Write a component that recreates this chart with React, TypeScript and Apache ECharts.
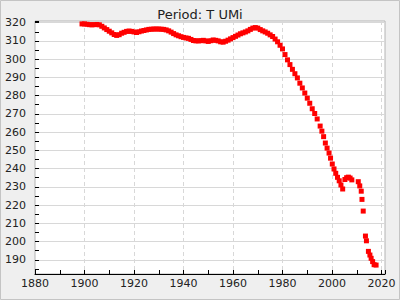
import { useEffect, useRef } from 'react';
import * as echarts from 'echarts';

const TITLE = 'Period: T UMi';

// Annual observations (year, period)
const earlyYears = [
  1899, 1900, 1901, 1902, 1903, 1904, 1905, 1906, 1907, 1908, 1909, 1910,
  1911, 1912, 1913, 1914, 1915, 1916, 1917, 1918, 1919, 1920, 1921, 1922,
  1923, 1924, 1925, 1926, 1927, 1928, 1929, 1930, 1931, 1932, 1933, 1934,
  1935, 1936, 1937, 1938, 1939, 1940, 1941, 1942, 1943, 1944, 1945, 1946,
  1947, 1948, 1949, 1950, 1951, 1952, 1953, 1954, 1955, 1956, 1957, 1958,
  1959, 1960, 1961, 1962, 1963, 1964, 1965, 1966, 1967, 1968, 1969, 1970,
  1971, 1972, 1973, 1974, 1975, 1976, 1977, 1978, 1979, 1980, 1981, 1982,
  1983, 1984, 1985, 1986, 1987, 1988, 1989, 1990, 1991, 1992, 1993, 1994,
];
const earlyPeriods = [
  319.3, 319.3, 319.1, 318.9, 318.8, 318.9, 319.0, 318.8, 318.0, 317.1, 316.2, 315.3,
  314.4, 313.5, 313.0, 313.4, 314.2, 314.7, 315.2, 315.4, 315.2, 314.9, 314.6, 315.0,
  315.4, 315.7, 316.0, 316.3, 316.4, 316.5, 316.5, 316.5, 316.4, 316.3, 316.0, 315.5,
  314.8, 314.0, 313.3, 312.8, 312.3, 311.9, 311.6, 311.4, 310.8, 310.2, 310.0, 310.0,
  310.1, 310.3, 310.0, 309.7, 310.1, 310.5, 310.3, 310.0, 309.5, 309.3, 309.8, 310.4,
  311.1, 311.8, 312.5, 313.2, 313.9, 314.4, 314.9, 315.5, 316.3, 317.0, 317.3, 317.0,
  316.2, 315.5, 314.9, 314.2, 313.3, 312.4, 311.0, 309.5, 307.6, 305.6, 302.5, 299.6,
  297.0, 294.4, 292.0, 289.7, 286.8, 284.2, 281.4, 278.6, 275.8, 272.8, 270.2, 267.2,
];

// Denser recent observations
const lateYears = [
  1995.2, 1995.9, 1996.6, 1997.3, 1998.0, 1998.8, 1999.4, 2000.1, 2000.8, 2001.5,
  2002.2, 2002.9, 2003.6, 2004.3, 2005.2, 2005.9, 2006.6, 2007.3, 2008.0, 2010.6,
  2011.2, 2011.8, 2012.1, 2012.6, 2013.5, 2013.9, 2014.7, 2015.3, 2015.8, 2016.4,
  2017.0, 2017.8,
];
const latePeriods = [
  263.3, 260.5, 257.5, 254.0, 251.2, 248.5, 245.7, 242.5, 239.8, 237.4,
  235.2, 233.3, 231.0, 228.8, 234.0, 235.0, 235.3, 234.8, 233.8, 232.8,
  230.5, 227.6, 223.1, 216.7, 203.0, 200.4, 194.6, 192.6, 190.8, 189.0,
  187.3, 187.1,
];

const X_MIN = 1880;
const X_MAX = 2021.4;
const Y_MIN = 182.2;
const Y_MAX = 320.9;

const FONT = 'DejaVu Sans';

export default function App() {
  const ref = useRef<HTMLDivElement>(null);

  useEffect(() => {
    if (!ref.current) return;
    const chart = echarts.init(ref.current, undefined, { renderer: 'svg' });
    const data: [number, number][] = [];
    earlyYears.forEach((y, i) => data.push([y, earlyPeriods[i]]));
    lateYears.forEach((y, i) => data.push([y, latePeriods[i]]));

    chart.setOption({
      animation: false,
      backgroundColor: '#efefef',
      title: {
        text: TITLE,
        left: 'center',
        top: 3,
        textStyle: { fontFamily: FONT, fontSize: 13, fontWeight: 'normal', color: '#222' },
      },
      graphic: [
        {
          type: 'rect',
          shape: { x: 0.5, y: 0.5, width: 399, height: 299 },
          style: { fill: 'none', stroke: '#c4c4c4', lineWidth: 1 },
          silent: true,
        },
      ],
      grid: {
        left: 35,
        right: 15,
        top: 21,
        bottom: 26,
        show: true,
        backgroundColor: '#ffffff',
        borderColor: '#b4b4b4',
        borderWidth: 1,
      },
      xAxis: [
        {
          type: 'value',
          min: X_MIN,
          max: X_MAX,
          interval: 20,
          position: 'bottom',
          axisLine: { show: true, onZero: false, lineStyle: { color: '#000', width: 1 } },
          axisTick: { show: false },
          axisLabel: {
            fontFamily: FONT,
            fontSize: 11,
            color: '#222',
            margin: 4,
            formatter: (v: number) => (Math.abs(v % 20) < 1e-6 ? String(v) : ''),
          },
          splitLine: {
            show: true,
            showMinLine: false,
            showMaxLine: false,
            lineStyle: { color: '#d8d8d8', type: [4, 3], width: 1 },
          },
        },
        {
          type: 'value',
          min: X_MIN,
          max: X_MAX,
          interval: 10,
          position: 'bottom',
          axisLine: { show: false, onZero: false },
          axisTick: { show: true, inside: true, length: 4, lineStyle: { color: '#000' } },
          axisLabel: { show: false },
          splitLine: { show: false },
        },
      ],
      yAxis: [
        {
          type: 'value',
          min: Y_MIN,
          max: Y_MAX,
          splitNumber: 13,
          position: 'left',
          axisLine: { show: false },
          axisTick: { show: false },
          axisLabel: {
            fontFamily: FONT,
            fontSize: 11,
            color: '#222',
            margin: 9,
            formatter: (v: number) => (Math.abs(v % 10) < 1e-6 ? String(v) : ''),
          },
          splitLine: {
            show: true,
            showMinLine: false,
            showMaxLine: false,
            lineStyle: { color: '#d8d8d8', width: 1 },
          },
        },
        {
          type: 'value',
          min: Y_MIN,
          max: Y_MAX,
          splitNumber: 28,
          position: 'left',
          axisLine: { show: false },
          axisTick: { show: true, inside: true, length: 4, lineStyle: { color: '#000' } },
          axisLabel: { show: false },
          splitLine: { show: false },
        },
      ],
      series: [
        {
          type: 'scatter',
          xAxisIndex: 0,
          yAxisIndex: 0,
          symbol: 'rect',
          symbolSize: 5,
          itemStyle: { color: '#ff0000', opacity: 1 },
          data,
        },
      ],
    });

    return () => chart.dispose();
  }, []);

  return (
    <div
      ref={ref}
      style={{ position: 'fixed', left: 0, top: 0, width: 400, height: 300 }}
    />
  );
}
